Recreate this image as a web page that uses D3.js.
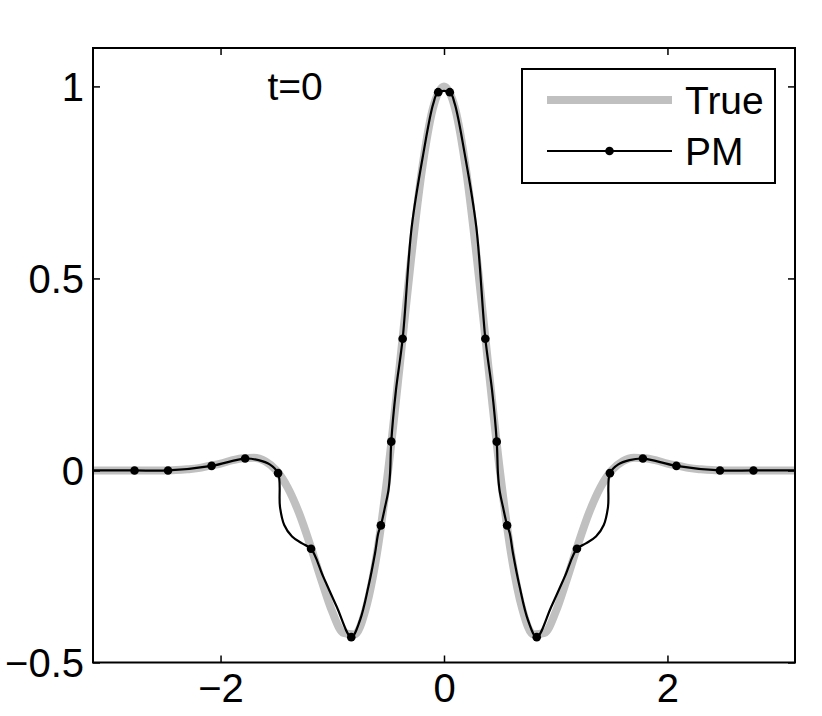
<!DOCTYPE html>
<html lang="en">

<head>
  <meta charset="UTF-8">
  <title>t=0 True vs PM</title>
  <script src="https://cdn.jsdelivr.net/npm/d3@7"></script>
</head>
<style>
  body { margin: 0; background: #fff; }
  svg { font-family: "Liberation Sans", Arial, Helvetica, sans-serif; }
</style>

<body>
  <svg width="822" height="716"></svg>
</body>
<script>
  // true curve samples
  const trueX = [-3.1416, -3.1, -3.0, -2.9, -2.8, -2.7, -2.6, -2.5, -2.4, -2.3, -2.2, -2.1, -2.0, -1.9, -1.8, -1.7, -1.6,
    -1.5, -1.4, -1.3, -1.2, -1.1, -1.0, -0.9, -0.8, -0.7, -0.6, -0.5, -0.4, -0.3, -0.2, -0.1, 0,
    0.1, 0.2, 0.3, 0.4, 0.5, 0.6, 0.7, 0.8, 0.9, 1.0, 1.1, 1.2, 1.3, 1.4, 1.5, 1.6, 1.7, 1.8,
    1.9, 2.0, 2.1, 2.2, 2.3, 2.4, 2.5, 2.6, 2.7, 2.8, 2.9, 3.0, 3.1, 3.1416];
  const trueY = [0, 0, 0, 0, 0, 0, 0, 0, 0.001, 0.003, 0.006, 0.012, 0.018, 0.026, 0.032, 0.033, 0.024,
    0, -0.044, -0.109, -0.192, -0.283, -0.368, -0.423, -0.427, -0.360, -0.216, 0, 0.263, 0.537, 0.777, 0.942, 1,
    0.942, 0.777, 0.537, 0.263, 0, -0.216, -0.360, -0.427, -0.423, -0.368, -0.283, -0.192, -0.109, -0.044, 0, 0.024, 0.033, 0.032,
    0.026, 0.018, 0.012, 0.006, 0.003, 0.001, 0, 0, 0, 0, 0, 0, 0, 0];

  // PM particles (dots)
  const pmDotX = [-2.77, -2.47, -2.08, -1.78, -1.485, -1.19, -0.83, -0.565, -0.472, -0.37, -0.052,
    0.052, 0.37, 0.472, 0.565, 0.83, 1.19, 1.485, 1.78, 2.08, 2.47, 2.77];
  const pmDotY = [0, 0, 0.012, 0.031, -0.007, -0.204, -0.434, -0.143, 0.075, 0.343, 0.985,
    0.985, 0.343, 0.075, -0.143, -0.434, -0.204, -0.007, 0.031, 0.012, 0, 0];

  // PM reconstructed line (dots plus points traced between them)
  const pmLineX = [-3.1416, -2.77, -2.47, -2.08, -1.78, -1.66, -1.56, -1.485, -1.468, -1.43, -1.36, -1.27, -1.19,
    -1.08, -0.96, -0.83, -0.752, -0.677, -0.617, -0.588, -0.565, -0.527, -0.497, -0.483, -0.472, -0.43, -0.37,
    -0.289, -0.185, -0.096, -0.052, 0.052, 0.096, 0.185, 0.289, 0.37, 0.43, 0.472, 0.483, 0.497, 0.527, 0.565,
    0.588, 0.617, 0.677, 0.752, 0.83, 0.96, 1.08, 1.19, 1.27, 1.36, 1.43, 1.468, 1.485, 1.56, 1.66, 1.78,
    2.08, 2.47, 2.77, 3.1416];
  const pmLineY = [0, 0, 0, 0.012, 0.031, 0.027, 0.016, -0.007, -0.095, -0.142, -0.172, -0.190, -0.204,
    -0.277, -0.355, -0.434, -0.390, -0.303, -0.215, -0.163, -0.143, -0.094, -0.051, -0.008, 0.075, 0.209, 0.343,
    0.634, 0.825, 0.955, 0.985, 0.985, 0.955, 0.825, 0.634, 0.343, 0.209, 0.075, -0.008, -0.051, -0.094, -0.143,
    -0.163, -0.215, -0.303, -0.390, -0.434, -0.355, -0.277, -0.204, -0.190, -0.172, -0.142, -0.095, -0.007, 0.016, 0.027, 0.031,
    0.012, 0, 0, 0];

  const xTicks = [-2, 0, 2];
  const yTicks = [-0.5, 0, 0.5, 1];
  const fmt = v => String(v).replace("-", "\u2212");

  const svg = d3.select("svg");
  const margin = { top: 48, right: 27, bottom: 53.5, left: 93 };
  const width = +svg.attr("width");
  const height = +svg.attr("height");
  const innerWidth = width - margin.left - margin.right;
  const innerHeight = height - margin.top - margin.bottom;

  const maingroup = svg.append("g")
    .attr("transform", `translate(${margin.left},${margin.top})`);

  const xScale = d3.scaleLinear().domain([-Math.PI, Math.PI]).range([0, innerWidth]);
  const yScale = d3.scaleLinear().domain([-0.5, 1.1]).range([innerHeight, 0]);

  maingroup.append("clipPath").attr("id", "plotclip")
    .append("rect").attr("width", innerWidth).attr("height", innerHeight);

  const plot = maingroup.append("g").attr("clip-path", "url(#plotclip)");

  const lineGen = d3.line()
    .x(d => xScale(d[0]))
    .y(d => yScale(d[1]));

  // grey "True" curve
  plot.append("path")
    .datum(trueX.map((x, i) => [x, trueY[i]]))
    .attr("fill", "none")
    .attr("stroke", "#c0c0c0")
    .attr("stroke-width", 8)
    .attr("d", lineGen.curve(d3.curveMonotoneX));

  // black PM line
  plot.append("path")
    .datum(pmLineX.map((x, i) => [x, pmLineY[i]]))
    .attr("fill", "none")
    .attr("stroke", "#000")
    .attr("stroke-width", 2.2)
    .attr("stroke-linejoin", "round")
    .attr("d", lineGen.curve(d3.curveCatmullRom.alpha(0.5)));

  plot.selectAll(".dot")
    .data(pmDotX.map((x, i) => [x, pmDotY[i]]))
    .join("circle")
    .attr("class", "dot")
    .attr("cx", d => xScale(d[0]))
    .attr("cy", d => yScale(d[1]))
    .attr("r", 4.3)
    .attr("fill", "#000");

  // axes, ticks pointing inward on all four sides
  const styleAxis = g => {
    g.select(".domain").remove();
    g.selectAll(".tick line").attr("stroke", "#000").attr("stroke-width", 1.5);
    g.selectAll(".tick text").attr("fill", "#000").attr("font-size", 40);
  };
  const noLabels = g => g.selectAll(".tick text").remove();

  maingroup.append("g")
    .attr("transform", `translate(0,${innerHeight})`)
    .call(d3.axisBottom(xScale).tickValues(xTicks).tickFormat(fmt).tickSizeInner(-7).tickSizeOuter(0).tickPadding(11))
    .call(styleAxis);

  maingroup.append("g")
    .call(d3.axisTop(xScale).tickValues(xTicks).tickSizeInner(-7).tickSizeOuter(0))
    .call(styleAxis)
    .call(noLabels);

  maingroup.append("g")
    .call(d3.axisLeft(yScale).tickValues(yTicks).tickFormat(fmt).tickSizeInner(-7).tickSizeOuter(0).tickPadding(9))
    .call(styleAxis)
    .call(g => g.selectAll(".tick text").attr("dy", "0.36em"));

  maingroup.append("g")
    .attr("transform", `translate(${innerWidth},0)`)
    .call(d3.axisRight(yScale).tickValues(yTicks).tickSizeInner(-7).tickSizeOuter(0))
    .call(styleAxis)
    .call(noLabels);

  maingroup.append("rect")
    .attr("width", innerWidth)
    .attr("height", innerHeight)
    .attr("fill", "none")
    .attr("stroke", "#000")
    .attr("stroke-width", 2);

  // annotation
  maingroup.append("text")
    .attr("x", xScale(-1.58))
    .attr("y", yScale(0.965))
    .attr("font-size", 39)
    .text("t=0");

  // legend
  const legend = svg.append("g").attr("transform", "translate(522,69)");
  legend.append("rect")
    .attr("width", 253).attr("height", 114)
    .attr("fill", "#fff").attr("stroke", "#000").attr("stroke-width", 2);
  legend.append("line")
    .attr("x1", 25).attr("x2", 150).attr("y1", 31).attr("y2", 31)
    .attr("stroke", "#c0c0c0").attr("stroke-width", 8);
  legend.append("line")
    .attr("x1", 25).attr("x2", 150).attr("y1", 82).attr("y2", 82)
    .attr("stroke", "#000").attr("stroke-width", 2);
  legend.append("circle").attr("cx", 87.5).attr("cy", 82).attr("r", 4.3).attr("fill", "#000");
  legend.append("text").attr("x", 163).attr("y", 45).attr("font-size", 39).text("True");
  legend.append("text").attr("x", 163).attr("y", 96).attr("font-size", 39).text("PM");
</script>

</html>
